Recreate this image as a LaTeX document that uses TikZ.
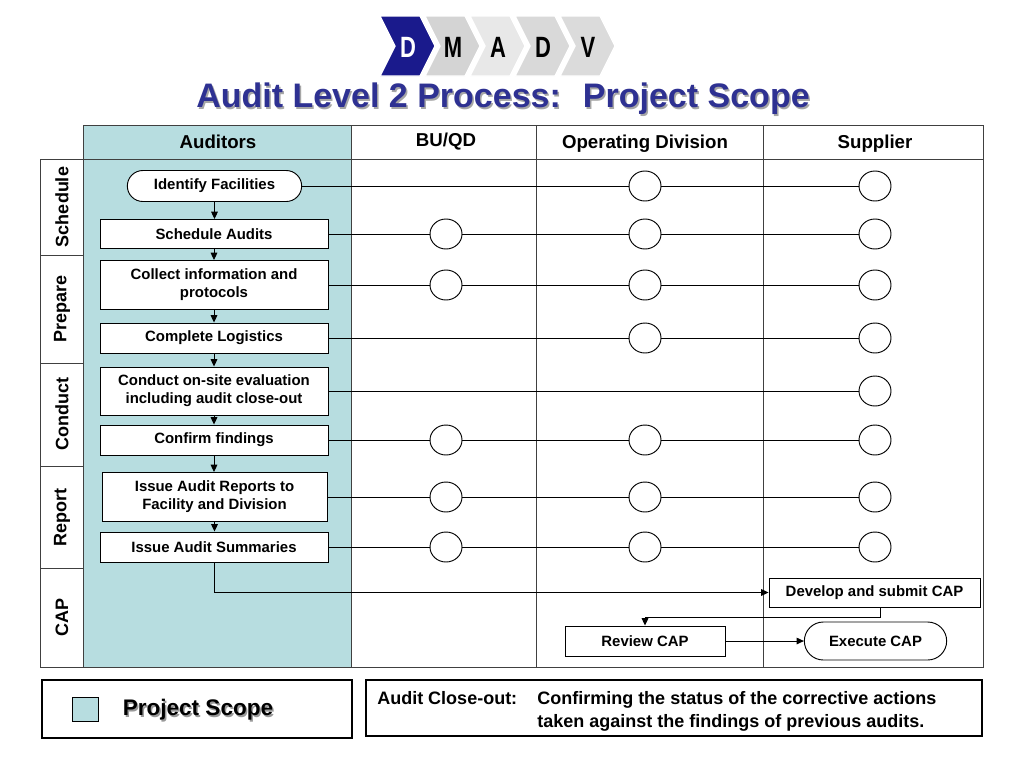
\documentclass[tikz,border=0pt]{standalone}
\usepackage{fontspec}
\setmainfont{Liberation Sans}
\newfontfamily\narrowfont[FakeStretch=0.75]{Liberation Sans}
\usetikzlibrary{shapes.misc,shapes.geometric,arrows.meta}
\definecolor{teal1}{RGB}{183,221,224}
\definecolor{navy}{RGB}{26,26,140}
\definecolor{titleblue}{RGB}{46,49,146}
\begin{document}
\begin{tikzpicture}[x=0.75pt,y=-0.75pt,
 proc/.style={draw, fill=white, line width=0.7pt, align=center, inner sep=1pt, minimum width=171pt, font=\fontsize{11.2}{13.5}\selectfont\bfseries},
 stad/.style={proc, rounded rectangle},
 circ/.style={draw, fill=white, ellipse, minimum width=24pt, minimum height=22.5pt, inner sep=0pt, line width=0.7pt},
 arr/.style={-{Triangle[length=5.5pt,width=5pt]}, line width=0.7pt},
 lanelab/.style={font=\fontsize{13.5}{15}\selectfont\bfseries, rotate=90},
 hdr/.style={font=\fontsize{14}{16}\selectfont\bfseries},
 conn/.style={line width=0.7pt},
 grid/.style={draw=black!75, line width=0.6pt}]
\useasboundingbox (0,0) rectangle (1024,768);
\fill[white] (0,0) rectangle (1024,768);
% chevrons
\foreach \i/\chcol/\chlet/\chtxt in {4/black!14/V/black, 3/black!15/D/black, 2/black!9/A/black, 1/black!17/M/black, 0/navy/D/white}{
  \filldraw[fill=\chcol, draw=white, line width=1pt] ({380+45*\i},16) -- ++(40,0) -- ++(15,30) -- ++(-15,30) -- ++(-40,0) -- ++(15,-30) -- cycle;
  \node[font=\narrowfont\fontsize{22}{24}\selectfont\bfseries, text=\chtxt] (ch\i) at ({380+45*\i+28},47) {\chlet};
}
% title
\node[font=\fontsize{25.5}{28}\selectfont\bfseries, text=black!35] at (504.5,100.5) {Audit Level 2 Process:~ Project Scope};
\node[font=\fontsize{25.5}{28}\selectfont\bfseries, text=titleblue] (title) at (503,99) {Audit Level 2 Process:~ Project Scope};
% table
\fill[teal1] (83,125) rectangle (351,667);
\draw[grid] (83,125) rectangle (983,667);
\draw[grid] (83,159) -- (983,159);
\draw[grid] (351,125) -- (351,667);
\draw[grid] (536,125) -- (536,667);
\draw[grid] (763,125) -- (763,667);
\draw[grid] (40,159) rectangle (83,667);
\foreach \yy in {255,363,466,568} \draw[grid] (40,\yy) -- (83,\yy);
\node[hdr] (h1) at (218,142) {Auditors};
\node[hdr] (h2) at (446,142) {BU/QD};
\node[hdr] (h3) at (645,144) {Operating Division};
\node[hdr] (h4) at (875,144) {Supplier};
\node[lanelab] (l1) at (62,207) {Schedule};
\node[lanelab] (l2) at (62,309) {Prepare};
\node[lanelab] (l3) at (62,414) {Conduct};
\node[lanelab] (l4) at (62,517) {Report};
\node[lanelab] (l5) at (62,617) {CAP};
% process
\node[stad, minimum width=132.75pt, minimum height=23.25pt] (n1) at (214.5,186) {Identify Facilities};
\node[proc, minimum height=21.75pt] (n2) at (214,234) {Schedule Audits};
\node[proc, minimum height=36.75pt] (n3) at (214,285) {Collect information and\\protocols};
\node[proc, minimum height=22.5pt] (n4) at (214,338) {Complete Logistics};
\node[proc, minimum height=36pt] (n5) at (214,391) {Conduct on-site evaluation\\including audit close-out};
\node[proc, minimum height=22.5pt] (n6) at (214,440) {Confirm findings};
\node[proc, minimum height=36.75pt, minimum width=168.75pt] (n7) at (214.5,497) {Issue Audit Reports to\\Facility and Division};
\node[proc, minimum height=22.5pt] (n8) at (214,547) {Issue Audit Summaries};
\foreach \a/\b in {n1/n2,n2/n3,n3/n4,n4/n5,n5/n6,n6/n7,n7/n8}
  \draw[arr] (\a.south) -- (\a.south |- \b.north);
% circles
\node[circ] (c1o) at (645,186) {};
\node[circ] (c1s) at (875,186) {};
\draw[conn] (n1.east) -- (c1o) -- (c1s);
\node[circ] (c2b) at (446,234) {};
\node[circ] (c2o) at (645,234) {};
\node[circ] (c2s) at (875,234) {};
\draw[conn] (n2.east) -- (c2b) -- (c2o) -- (c2s);
\node[circ] (c3b) at (446,285) {};
\node[circ] (c3o) at (645,285) {};
\node[circ] (c3s) at (875,285) {};
\draw[conn] (n3.east) -- (c3b) -- (c3o) -- (c3s);
\node[circ] (c4o) at (645,338) {};
\node[circ] (c4s) at (875,338) {};
\draw[conn] (n4.east) -- (c4o) -- (c4s);
\node[circ] (c5s) at (875,391) {};
\draw[conn] (n5.east) -- (c5s);
\node[circ] (c6b) at (446,440) {};
\node[circ] (c6o) at (645,440) {};
\node[circ] (c6s) at (875,440) {};
\draw[conn] (n6.east) -- (c6b) -- (c6o) -- (c6s);
\node[circ] (c7b) at (446,497) {};
\node[circ] (c7o) at (645,497) {};
\node[circ] (c7s) at (875,497) {};
\draw[conn] (n7.east) -- (c7b) -- (c7o) -- (c7s);
\node[circ] (c8b) at (446,547) {};
\node[circ] (c8o) at (645,547) {};
\node[circ] (c8s) at (875,547) {};
\draw[conn] (n8.east) -- (c8b) -- (c8o) -- (c8s);
% CAP
\node[proc, minimum width=158.25pt, minimum height=21.75pt] (dev) at (874.5,592.5) {Develop and submit CAP};
\node[proc, minimum width=120pt, minimum height=22.5pt] (rev) at (645,641) {Review CAP};
\node[stad, minimum width=108.75pt, minimum height=28.5pt] (exe) at (875.5,641) {Execute CAP};
\draw[arr] (n8.south) |- (dev.west);
\coordinate (d1) at (880,617);
\draw[arr] (d1 |- dev.south) -- (d1) -| (rev.north);
\draw[arr] (rev.east) -- (exe.west);
% legend
\draw[line width=0.8pt] (42,680) rectangle (352,738);
\node[draw, fill=teal1, line width=0.6pt, minimum width=19.5pt, minimum height=18pt, inner sep=0pt] (sq) at (85,709) {};
\node[font=\fontsize{16.9}{19}\selectfont\bfseries, text=black!40] at (199.5,711.5) {Project Scope};
\node[font=\fontsize{16.9}{19}\selectfont\bfseries] (ps) at (198,710) {Project Scope};
\draw[line width=0.8pt] (366,680) rectangle (982,736);
\node[font=\fontsize{13.5}{16}\selectfont\bfseries, anchor=base west, inner sep=0pt] (ac) at (377,704) {Audit Close-out:};
\node[font=\fontsize{13.5}{16}\selectfont\bfseries, anchor=base west, inner sep=0pt] (ac1) at (537,704) {Confirming the status of the corrective actions};
\node[font=\fontsize{13.5}{16}\selectfont\bfseries, anchor=base west, inner sep=0pt] (ac2) at (537,727) {taken against the findings of previous audits.};
\end{tikzpicture}
\end{document}
